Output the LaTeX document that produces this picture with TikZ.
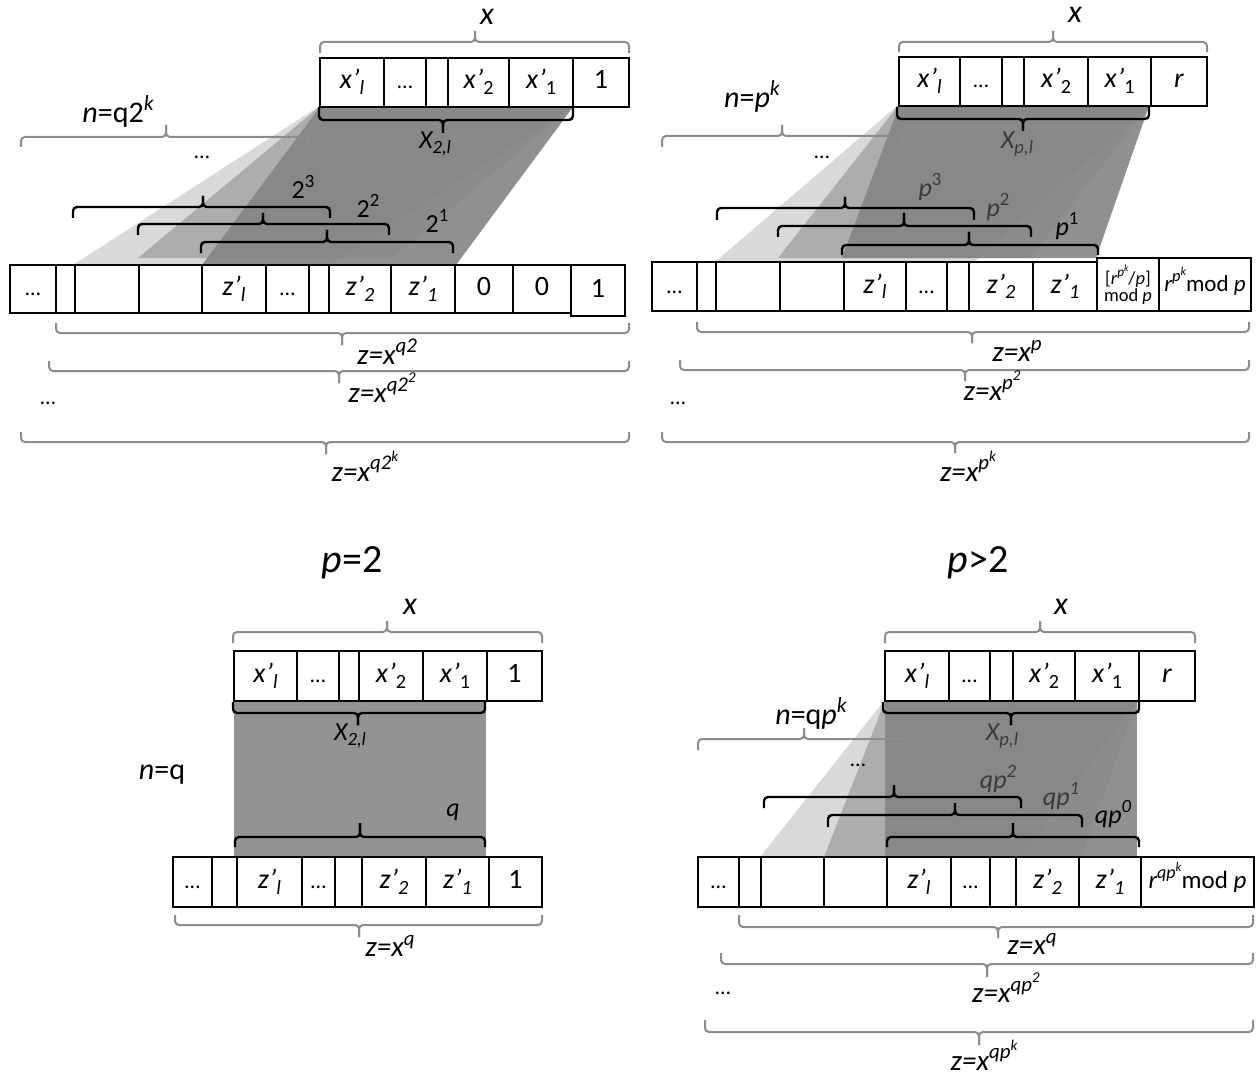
\documentclass[tikz,border=0pt]{standalone}
\usepackage{fontspec}
\setmainfont{Carlito}
\definecolor{braceg}{HTML}{8C8C8C}
\definecolor{tdark}{HTML}{3A3A3A}
\definecolor{shdark}{HTML}{858585}
\definecolor{shbl}{HTML}{939393}
\makeatletter
\newcommand\hi[1]{\raisebox{0.4em}{\fontsize{\strip@pt\dimexpr0.72\dimexpr\f@size pt\relax\relax}{0}\selectfont #1}}
\newcommand\lo[1]{\raisebox{-0.2em}{\fontsize{\strip@pt\dimexpr0.72\dimexpr\f@size pt\relax\relax}{0}\selectfont #1}}
\makeatother
% brace: style, x1, x2, xtip, yend, ymid, ytip
\newcommand\obr[7]{%
  \draw[#1] (#2,#5) -- (#2,#6) -- (#4,#6) -- (#4,#7);
  \draw[#1] (#3,#5) -- (#3,#6) -- (#4,#6) -- (#4,#7);}
% cell: name, x1, x2, ytop, ybot, text
\newcommand\mkcell[6]{%
  \node[cell, minimum width={#3pt-#2pt}, minimum height={#5pt-#4pt}] (#1) at ({(#2+#3)/2},{(#4+#5)/2}) {#6};}
\begin{document}
\begin{tikzpicture}[x=1pt,y=-1pt,
  cell/.style={draw=black, line width=2pt, fill=white, inner sep=0pt, outer sep=0pt,
    font=\fontsize{28}{32}\selectfont, text height=18pt, text depth=5pt},
  gbr/.style={draw=braceg, line width=2pt, rounded corners=4pt},
  bbr/.style={draw=black, line width=2.4pt, rounded corners=4pt},
  shL/.style={fill=black, fill opacity=0.15},
  shM/.style={fill=black, fill opacity=0.2},
  shD/.style={fill=shdark, fill opacity=0.9},
  lab/.style={inner sep=0pt, font=\fontsize{30}{34}\selectfont},
  xlab/.style={inner sep=0pt, font=\fontsize{32}{34}\selectfont\itshape},
  zlab/.style={inner sep=0pt, font=\fontsize{29}{32}\selectfont\itshape},
  blab/.style={inner sep=0pt, font=\fontsize{26}{30}\selectfont},
  dlab/.style={inner sep=0pt, font=\fontsize{26}{30}\selectfont, text=tdark},
  dots/.style={inner sep=0pt, font=\fontsize{22}{24}\selectfont},
  title/.style={inner sep=0pt, font=\fontsize{40}{44}\selectfont}]
\useasboundingbox[fill=white] (0,0) rectangle (1257,1075);

% ================= TOP LEFT =================
\fill[shL] (318,107) -- (573,107) -- (331,265) -- (73,265) -- cycle;
\fill[shM] (319,107) -- (573,107) -- (392,258) -- (138,258) -- cycle;
\fill[shD] (320,107) -- (573,107) -- (456,265) -- (202,265) -- cycle;

\obr{gbr}{320}{629}{475}{53}{42}{31}
\obr{gbr}{21}{308}{166}{147}{137}{125}
\obr{bbr}{319}{573}{443}{107}{120}{133}
\obr{bbr}{73}{330}{203}{218}{207}{196}
\obr{bbr}{138}{389}{263}{235}{224}{213}
\obr{bbr}{201}{453}{327}{253}{242}{230}
\obr{gbr}{56}{629}{342}{323}{333}{345}
\obr{gbr}{49}{629}{339}{361}{371}{383}
\obr{gbr}{21}{629}{326}{432}{442}{454}

\node[xlab] (tlxlab) at (487,17) {x};
\node[lab] (tlnlab) at (118,111) {{\itshape n}=q2\hi{\itshape k}};
\node[dots] (tldots) at (202,157) {…};
\node[blab] (tlXlab) at (435,144) {\itshape X\lo{2,l}};
\node[blab] (tlp3) at (303,187) {2\hi{3}};
\node[blab] (tlp2) at (368,206) {2\hi{2}};
\node[blab] (tlp1) at (437,221) {2\hi{1}};
\node[zlab] (tlz1lab) at (387,352) {z=x\hi{q2}};
\node[zlab] (tlz2lab) at (382,388) {z=x\hi{q2\hi{2}}};
\node[dots] (tlzdots) at (48,403) {…};
\node[zlab] (tlzklab) at (365,466) {z=x\hi{q2\hi{k}}};

\mkcell{tlx1}{320}{384}{58}{107}{\itshape x’\lo{l}}
\mkcell{tlx2}{384}{426}{58}{107}{\fontsize{22}{24}\selectfont …}
\mkcell{tlx3}{426}{448}{58}{107}{}
\mkcell{tlx4}{448}{509}{58}{107}{{\itshape x’}\lo{2}}
\mkcell{tlx5}{509}{573}{58}{107}{{\itshape x’}\lo{1}}
\mkcell{tlx6}{573}{629}{58}{107}{1\hspace{12pt}}

\mkcell{tlz1}{10}{56}{265}{313}{\fontsize{22}{24}\selectfont …}
\mkcell{tlz2}{56}{75}{265}{313}{}
\mkcell{tlz3}{75}{139}{265}{313}{}
\mkcell{tlz4}{139}{202}{265}{313}{}
\mkcell{tlz5}{202}{266}{265}{313}{\itshape z’\lo{l}}
\mkcell{tlz6}{266}{309}{265}{313}{\fontsize{22}{24}\selectfont …}
\mkcell{tlz7}{309}{329}{265}{313}{}
\mkcell{tlz8}{329}{391}{265}{313}{\itshape z’\lo{2}}
\mkcell{tlz9}{391}{455}{265}{313}{\itshape z’\lo{1}}
\mkcell{tlz10}{455}{513}{265}{313}{0}
\mkcell{tlz11}{513}{571}{265}{313}{0}
\mkcell{tlz12}{571}{625}{265}{316}{1}

% ================= TOP RIGHT =================
\fill[shL] (897,106) -- (1149,106) -- (974,262) -- (715,262) -- cycle;
\fill[shM] (898,106) -- (1149,106) -- (1031,258) -- (778,258) -- cycle;
\fill[shD] (899,106) -- (1149,106) -- (1096,258) -- (842,258) -- cycle;

\obr{gbr}{899}{1207}{1053}{52}{42}{31}
\obr{gbr}{662}{903}{782}{147}{136}{125}
\obr{bbr}{897}{1149}{1023}{107}{119}{131}
\obr{bbr}{717}{974}{845}{220}{208}{197}
\obr{bbr}{778}{1031}{904}{237}{226}{213}
\obr{bbr}{842}{1098}{969}{255}{245}{232}
\obr{gbr}{697}{1249}{972}{322}{332}{343}
\obr{gbr}{680}{1249}{965}{360}{370}{381}
\obr{gbr}{662}{1249}{955}{432}{442}{453}

\node[xlab] (trxlab) at (1075,15) {x};
\node[lab] (trnlab) at (752,96) {{\itshape n}={\itshape p}\hi{\itshape k}};
\node[dots] (trdots) at (822,157) {…};
\node[dlab] (trXlab) at (1017,144) {\itshape X\lo{p,l}};
\node[dlab] (trp3) at (930,187) {{\itshape p}\hi{3}};
\node[dlab] (trp2) at (998,207) {{\itshape p}\hi{2}};
\node[blab] (trp1) at (1067,226) {{\itshape p}\hi{1}};
\node[zlab] (trz1lab) at (1017,351) {z=x\hi{p}};
\node[zlab] (trz2lab) at (992,386) {z=x\hi{p\hi{2}}};
\node[dots] (trzdots) at (678,403) {…};
\node[zlab] (trzklab) at (968,466) {z=x\hi{p\hi{k}}};

\mkcell{trx1}{899}{960}{57}{106}{\itshape x’\lo{l}}
\mkcell{trx2}{960}{1002}{57}{106}{\fontsize{22}{24}\selectfont …}
\mkcell{trx3}{1002}{1024}{57}{106}{}
\mkcell{trx4}{1024}{1088}{57}{106}{{\itshape x’}\lo{2}}
\mkcell{trx5}{1088}{1151}{57}{106}{{\itshape x’}\lo{1}}
\mkcell{trx6}{1151}{1207}{57}{106}{\itshape r\hspace{14pt}}

\mkcell{trz1}{652}{697}{262}{311}{\fontsize{22}{24}\selectfont …}
\mkcell{trz2}{697}{716}{262}{311}{}
\mkcell{trz3}{716}{780}{262}{311}{}
\mkcell{trz4}{780}{844}{262}{311}{}
\mkcell{trz5}{844}{906}{262}{311}{\itshape z’\lo{l}}
\mkcell{trz6}{906}{947}{262}{311}{\fontsize{22}{24}\selectfont …}
\mkcell{trz7}{947}{969}{262}{311}{}
\mkcell{trz8}{969}{1033}{262}{311}{\itshape z’\lo{2}}
\mkcell{trz9}{1033}{1097}{262}{311}{\itshape z’\lo{1}}
\node[cell, minimum width=62pt, minimum height=53pt, text height=, text depth=, align=center,
  font=\fontsize{18.5}{14}\selectfont] (trz10) at (1128,284.5)
  {[{\itshape r}\hi{{\itshape p}\hi{\itshape k}}/{\itshape p}]\\mod {\itshape p}};
\mkcell{trz11}{1159}{1251}{258}{311}{\fontsize{23}{26}\selectfont{\itshape r}\hi{{\itshape p}\hi{\itshape k}}mod {\itshape p}}

% ================= TITLES =================
\node[title] (tit1) at (352,563) {{\itshape p}=2};
\node[title] (tit2) at (978,563) {{\itshape p}>2};

% ================= BOTTOM LEFT =================
\fill[shbl] (234,701) rectangle (486,857);

\obr{gbr}{233}{542}{387}{643}{632}{621}
\obr{bbr}{233}{485}{358}{702}{713}{725}
\obr{bbr}{235}{485}{360}{847}{837}{823}
\obr{gbr}{175}{542}{359}{915}{925}{937}

\node[xlab] (blxlab) at (410,607) {x};
\node[blab] (blXlab) at (350,736) {\itshape X\lo{2,l}};
\node[lab] (blnlab) at (162,775) {{\itshape n}=q};
\node[blab] (blqlab) at (453,812) {\itshape q};
\node[zlab] (blz1lab) at (390,946) {z=x\hi{q}};

\mkcell{blx1}{234}{297}{651}{701}{\itshape x’\lo{l}}
\mkcell{blx2}{297}{339}{651}{701}{\fontsize{22}{24}\selectfont …}
\mkcell{blx3}{339}{359}{651}{701}{}
\mkcell{blx4}{359}{423}{651}{701}{{\itshape x’}\lo{2}}
\mkcell{blx5}{423}{487}{651}{701}{{\itshape x’}\lo{1}}
\mkcell{blx6}{487}{542}{651}{701}{1\hspace{12pt}}

\mkcell{blz1}{173}{212}{857}{907}{\fontsize{22}{24}\selectfont …}
\mkcell{blz2}{212}{237}{857}{907}{}
\mkcell{blz3}{237}{302}{857}{907}{\itshape z’\lo{l}}
\mkcell{blz4}{302}{335}{857}{907}{\fontsize{22}{24}\selectfont …}
\mkcell{blz5}{335}{362}{857}{907}{}
\mkcell{blz6}{362}{426}{857}{907}{\itshape z’\lo{2}}
\mkcell{blz7}{426}{489}{857}{907}{\itshape z’\lo{1}}
\mkcell{blz8}{489}{542}{857}{907}{1}

% ================= BOTTOM RIGHT =================
\fill[shL] (884,701) -- (1137,701) -- (1021,857) -- (760,857) -- cycle;
\fill[shM] (885,701) -- (1137,701) -- (1082,857) -- (824,857) -- cycle;
\fill[shD] (885,701) rectangle (1137,857);

\obr{gbr}{885}{1195}{1040}{643}{632}{621}
\obr{gbr}{698}{910}{804}{750}{739}{728}
\obr{bbr}{883}{1139}{1011}{702}{713}{725}
\obr{bbr}{764}{1021}{894}{808}{797}{785}
\obr{bbr}{828}{1082}{955}{827}{815}{803}
\obr{bbr}{887}{1139}{1013}{847}{837}{823}
\obr{gbr}{739}{1253}{998}{915}{927}{938}
\obr{gbr}{721}{1253}{987}{953}{964}{977}
\obr{gbr}{705}{1253}{979}{1020}{1032}{1045}

\node[xlab] (brxlab) at (1061,607) {x};
\node[lab] (brnlab) at (811,713) {{\itshape n}=q{\itshape p}\hi{\itshape k}};
\node[dots] (brdots) at (858,765) {…};
\node[dlab] (brXlab) at (1002,736) {\itshape X\lo{p,l}};
\node[dlab] (brq2) at (998,779) {\itshape qp\hi{2}};
\node[dlab] (brq1) at (1061,796) {\itshape qp\hi{1}};
\node[blab] (brq0) at (1113,814) {\itshape qp\hi{0}};
\node[zlab] (brz1lab) at (1032,944) {z=x\hi{q}};
\node[zlab] (brz2lab) at (1006,988) {z=x\hi{qp\hi{2}}};
\node[dots] (brzdots) at (723,993) {…};
\node[zlab] (brzklab) at (984,1055) {z=x\hi{qp\hi{k}}};

\mkcell{brx1}{885}{949}{651}{701}{\itshape x’\lo{l}}
\mkcell{brx2}{949}{990}{651}{701}{\fontsize{22}{24}\selectfont …}
\mkcell{brx3}{990}{1013}{651}{701}{}
\mkcell{brx4}{1013}{1075}{651}{701}{{\itshape x’}\lo{2}}
\mkcell{brx5}{1075}{1139}{651}{701}{{\itshape x’}\lo{1}}
\mkcell{brx6}{1139}{1195}{651}{701}{\itshape r\hspace{14pt}}

\mkcell{brz1}{698}{739}{857}{907}{\fontsize{22}{24}\selectfont …}
\mkcell{brz2}{739}{761}{857}{907}{}
\mkcell{brz3}{761}{824}{857}{907}{}
\mkcell{brz4}{824}{887}{857}{907}{}
\mkcell{brz5}{887}{951}{857}{907}{\itshape z’\lo{l}}
\mkcell{brz6}{951}{990}{857}{907}{\fontsize{22}{24}\selectfont …}
\mkcell{brz7}{990}{1016}{857}{907}{}
\mkcell{brz8}{1016}{1079}{857}{907}{\itshape z’\lo{2}}
\mkcell{brz9}{1079}{1141}{857}{907}{\itshape z’\lo{1}}
\mkcell{brz10}{1141}{1254}{857}{907}{\fontsize{25}{28}\selectfont{\itshape r}\hi{{\itshape qp}\hi{\itshape k}}mod {\itshape p}}
\end{tikzpicture}
\end{document}
